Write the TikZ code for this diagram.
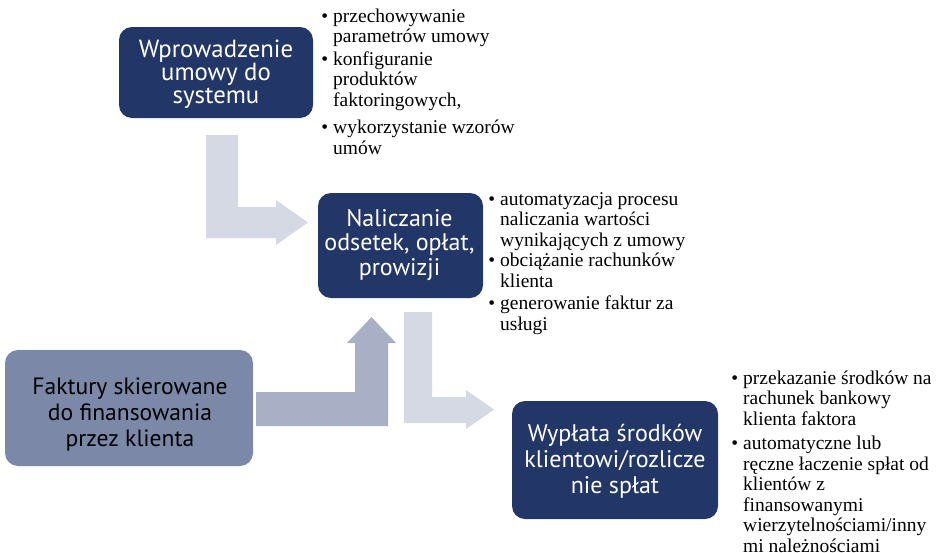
\documentclass[tikz,border=0pt]{standalone}
\usepackage{fontspec}
\setmainfont{Liberation Serif}
\newfontfamily\stagefont{PT Sans}
\definecolor{navy}{HTML}{233668}
\definecolor{slate}{HTML}{7B88A8}
\definecolor{arrowlight}{HTML}{D5D9E4}
\definecolor{arrowmid}{HTML}{A9B0C5}
\newcommand{\itm}{\llap{\textbullet\kern5pt}}
\begin{document}
\begin{tikzpicture}[x=1pt,y=-1pt,
  stage/.style={rounded corners=13pt, inner sep=0pt},
  darkstage/.style={stage, fill=navy},
  lightstage/.style={stage, fill=slate},
  % stage captions are anchored at the baseline of their last line
  caption/.style={anchor=base, inner sep=0pt, align=center, text=white},
  note/.style={anchor=base west, inner sep=0pt, align=left,
    font=\fontsize{19.5}{20.5}\selectfont},
]
\useasboundingbox (0,0) rectangle (939,552);

% block arrows between the stages
\fill[arrowlight] (206,135) -- (238,135) -- (238,207) -- (276,207) -- (276,200)
  -- (308,222.5) -- (276,245) -- (276,238) -- (206,238) -- cycle;
\fill[arrowmid] (256,392) -- (355,392) -- (355,343) -- (347,343) -- (371.5,317)
  -- (396,343) -- (388,343) -- (388,426) -- (256,426) -- cycle;
\fill[arrowlight] (404,312) -- (432,312) -- (432,397) -- (466,397) -- (466,390)
  -- (494,409.5) -- (466,429) -- (466,423) -- (404,423) -- cycle;

% stages
\node[darkstage, minimum width=194pt, minimum height=91pt] (b1) at (216,72.5) {};
\node[darkstage, minimum width=165pt, minimum height=105pt] (b2) at (400.5,245.5) {};
\node[lightstage, minimum width=248pt, minimum height=116pt] (b3) at (129,408) {};
\node[darkstage, minimum width=206pt, minimum height=118pt] (b4) at (615,460) {};

\node[caption, font=\stagefont\fontsize{24.8}{23}\selectfont] (c1) at (216,103.5)
  {Wprowadzenie\\umowy do\\systemu};
\node[caption, font=\stagefont\fontsize{24}{24.5}\selectfont] (c2) at (399.5,275)
  {Naliczanie\\odsetek, opłat,\\prowizji};
\node[caption, text=black, font=\stagefont\fontsize{23.6}{26}\selectfont] (c3) at (130,446.7)
  {Faktury skierowane\\do finansowania\\przez klienta};
\node[caption, font=\stagefont\fontsize{24}{26}\selectfont] (c4) at (615,493.3)
  {Wypłata środków\\klientowi/rozlicze\\nie spłat};

% descriptions of each stage (anchored at the last line's baseline)
\node[note] (n1a) at (333,42.5) {\itm przechowywanie\\parametrów umowy};
\node[note] (n1b) at (333,106) {\itm konfiguranie\\produktów\\faktoringowych,};
\node[note] (n1c) at (333,154) {\itm wykorzystanie wzorów\\umów};

\node[note] (n2a) at (500,246) {\itm automatyzacja procesu\\naliczania wartości\\wynikających z umowy};
\node[note] (n2b) at (500,287) {\itm obciążanie rachunków\\klienta};
\node[note] (n2c) at (500,330) {\itm generowanie faktur za\\usługi};

\node[note] (n4a) at (743,425) {\itm przekazanie środków na\\rachunek bankowy\\klienta faktora};
\node[note] (n4b) at (743,552) {\itm automatyczne lub\\ręczne łaczenie spłat od\\klientów z\\finansowanymi\\wierzytelnościami/inny\\mi należnościami};
\end{tikzpicture}
\end{document}
